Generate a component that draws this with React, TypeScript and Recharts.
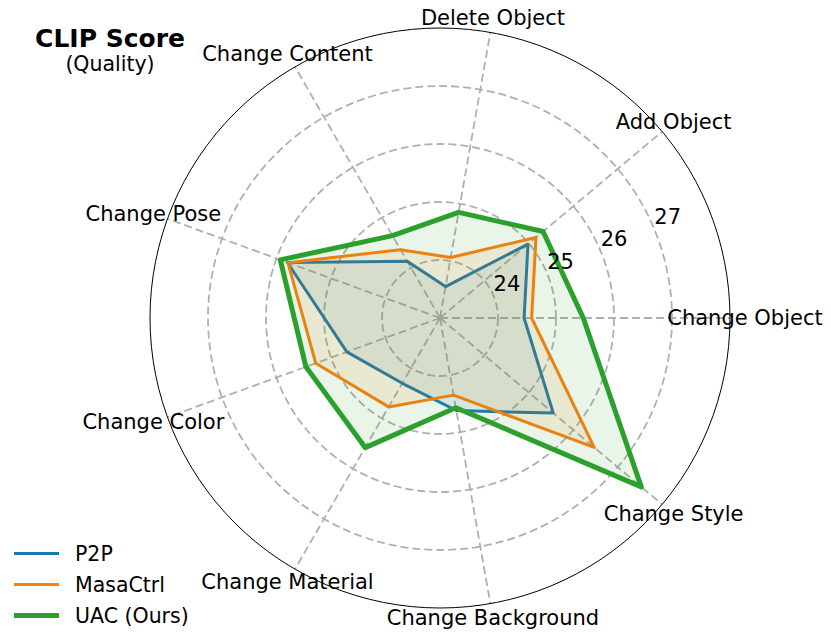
import React from 'react'
import {
  RadarChart,
  Radar,
  PolarGrid,
  PolarAngleAxis,
  PolarRadiusAxis,
  Customized,
} from 'recharts'

// CLIP Score (Quality) per edit type
const categories = [
  'Change Object',
  'Add Object',
  'Delete Object',
  'Change Content',
  'Change Pose',
  'Change Color',
  'Change Material',
  'Change Background',
  'Change Style',
]
const p2p = [24.45, 24.98, 23.55, 24.13, 25.8, 24.71, 24.3, 24.62, 25.55]
const masaCtrl = [24.58, 25.16, 24.06, 24.36, 25.79, 25.28, 24.77, 24.35, 26.47]
const uac = [25.47, 25.32, 24.85, 24.64, 25.93, 25.46, 25.58, 24.57, 27.53]
const radiusTicks = [24, 25, 26, 27]
const radiusDomain = [23, 28]

const data = categories.map((category, i) => ({
  category,
  p2p: p2p[i],
  masaCtrl: masaCtrl[i],
  uac: uac[i],
}))

const series = [
  { key: 'p2p', name: 'P2P', color: '#1f77b4', width: 3 },
  { key: 'masaCtrl', name: 'MasaCtrl', color: '#ff7f0e', width: 3 },
  { key: 'uac', name: 'UAC (Ours)', color: '#2ca02c', width: 5 },
]

const FONT = '"DejaVu Sans", sans-serif'
const W = 831
const H = 643
// 0°부터 반시계 방향, 마지막 축은 360 - 360/n
const START_ANGLE = 0
const END_ANGLE = 360 - 360 / categories.length

/* 각도축 라벨 — 가운데 정렬 */
const AngleTick = (props: any) => {
  const { x, y, payload } = props
  return (
    <text
      x={x}
      y={y}
      textAnchor="middle"
      dominantBaseline="central"
      fontSize={21}
      fontFamily={FONT}
      fill="#000"
    >
      {payload.value}
    </text>
  )
}

/* 반지름축 라벨 — 좌하단 기준 */
const RadiusTick = (props: any) => {
  const { x, y, payload } = props
  return (
    <text x={x} y={y - 5} textAnchor="start" fontSize={21} fontFamily={FONT} fill="#000">
      {payload.value}
    </text>
  )
}

const Title = () => (
  <g fontFamily={FONT} fill="#000">
    <text x={110} y={47} textAnchor="middle" fontSize={25} fontWeight="bold">
      CLIP Score
    </text>
    <text x={110} y={71} textAnchor="middle" fontSize={20.5}>
      (Quality)
    </text>
  </g>
)

export default function App() {
  return (
    <div style={{ position: 'absolute', left: 0, top: 0, width: W, height: H, background: '#fff' }}>
      <RadarChart
        width={W}
        height={H}
        data={data}
        cx={440}
        cy={318}
        outerRadius={290}
        startAngle={START_ANGLE}
        endAngle={END_ANGLE}
        margin={{ top: 0, right: 0, bottom: 0, left: 0 }}
      >
        <PolarGrid
          gridType="circle"
          stroke="#b0b0b0"
          strokeWidth={1.8}
          strokeDasharray="8 4"
        />
        <PolarAngleAxis
          dataKey="category"
          scale="point"
          tick={AngleTick}
          tickSize={15}
          tickLine={false}
          axisLineType="circle"
          axisLine={{ stroke: '#000', strokeWidth: 1 }}
        />
        <PolarRadiusAxis
          type="number"
          angle={22.5}
          domain={radiusDomain}
          ticks={radiusTicks}
          axisLine={false}
          tickLine={false}
          tick={RadiusTick}
        />
        {series.map((s) => (
          <Radar
            key={s.key}
            name={s.name}
            dataKey={s.key}
            stroke={s.color}
            strokeWidth={s.width}
            strokeLinejoin="round"
            fill={s.color}
            fillOpacity={0.1}
            dot={false}
            isAnimationActive={false}
          />
        ))}
        <Customized component={Title} />
      </RadarChart>
      {/* 범례 */}
      {series.map((s, i) => (
        <div
          key={s.key}
          style={{
            position: 'absolute',
            left: 14,
            top: 538 + i * 31,
            height: 31,
            display: 'flex',
            alignItems: 'center',
            fontFamily: FONT,
            fontSize: 20.5,
            whiteSpace: 'nowrap',
          }}
        >
          <span style={{ display: 'inline-block', width: 45, height: s.width, background: s.color }} />
          <span style={{ marginLeft: 16 }}>{s.name}</span>
        </div>
      ))}
    </div>
  )
}
